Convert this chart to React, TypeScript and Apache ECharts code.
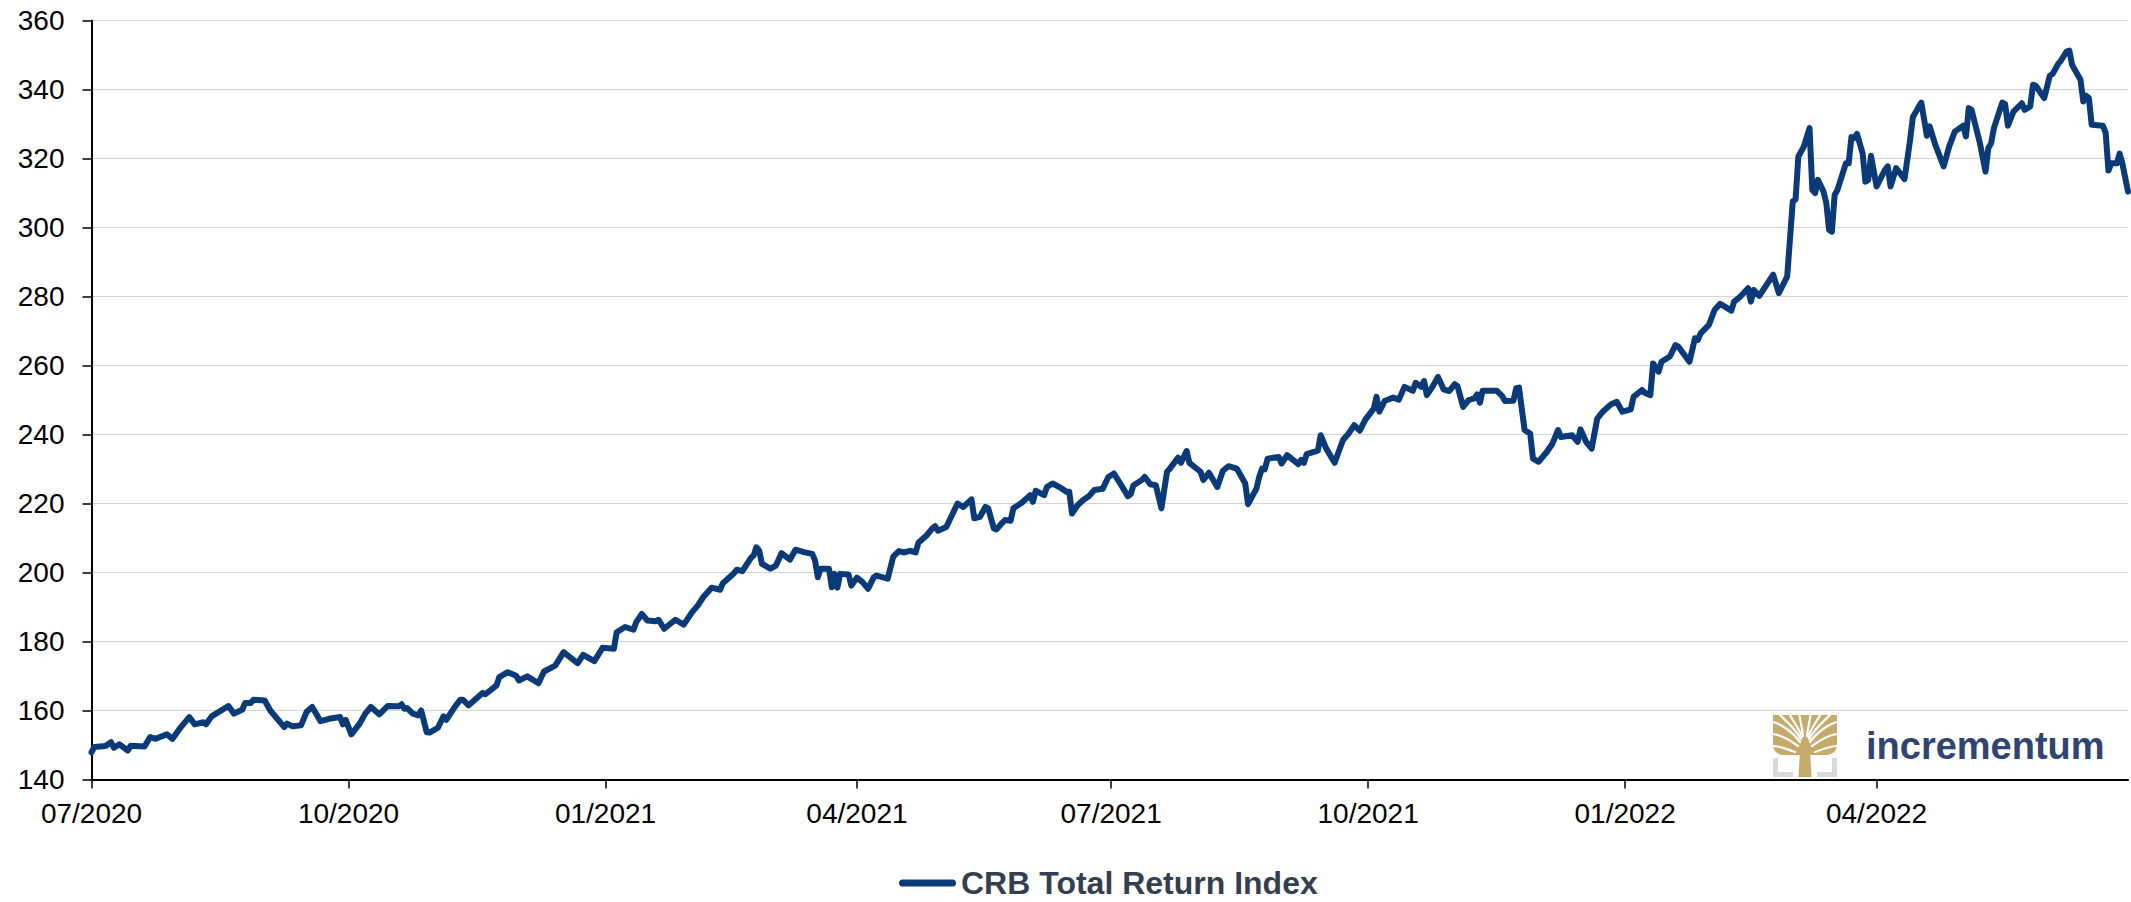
import React, { useEffect, useRef } from "react";
import * as echarts from "echarts";

const START_DATE = "2020-07-01";
const SERIES_NAME = "CRB Total Return Index";

// x values: calendar days since START_DATE
const DAYS_A = [0,1,5,7,8,10,13,14,19,21,
  23,27,29,32,35,37,40,41,43,49,
  51,54,55,57,58,62,64,69,70,72,
  75,77,79,82,85,89,90,91,93,96,
  98,100,103,106,110,111,112,113,115,117,
  118,120,121,124,126,127,130,132,133,135,
  140,141,145];
const VALUES_A = [147.9,149.4,149.7,150.8,149.2,150.2,148.4,149.8,149.6,152.3,
  151.8,153.1,151.8,155.2,158.1,156.0,156.6,156.0,158.3,161.3,
  159.1,160.3,162.2,162.2,163.1,162.9,160.0,155.2,156.2,155.4,
  155.7,159.6,161.0,156.9,157.6,158.1,156.0,157.3,153.1,156.2,
  159.1,161.0,158.9,161.3,161.2,161.8,160.5,160.7,159.1,158.6,
  160.0,153.7,153.6,155.0,158.3,157.3,161.0,163.1,163.1,161.5,
  165.1,164.7,167.3];

const DAYS_B = [146,149,152,153,156,160,162,166,169,174,
  176,180,183,187,188,191,194,195,197,199,
  202];
const VALUES_B = [169.7,171.1,170.1,168.7,169.9,167.9,171.3,173.0,176.9,173.7,
  176.1,174.3,178.2,177.9,182.7,184.2,183.4,185.6,188.0,186.1,
  185.9];

const DAYS_C = [203,205,209,212,215,217,219,222,225,226,
  230,231,233,236,237,238,239,240,243,245,
  247,250,252,255,258,259,260,261,264,265,
  266,267,268,271,272,274,276,278,280,281,
  285,287,289];
const VALUES_C = [186.3,183.7,186.3,184.9,188.5,190.4,192.9,195.6,195.0,196.9,
  199.8,200.8,200.4,204.2,204.9,207.3,206.4,202.5,201.1,202.0,
  205.6,203.7,206.6,205.9,205.4,203.5,198.6,201.1,201.1,195.7,
  199.6,195.6,199.6,199.4,196.2,198.5,197.2,195.3,198.6,199.1,
  198.2,204.6,206.2];

const DAYS_D = [291,293,295,296,299,301,302,303,306,308,
  310,312,315,316,318,320,321,323,324,326,
  327,329,330,333,336,337,338,341,342,344,
  347,349,350,351,353,355,357,359,362,364,
  366,369,371,372,373,376,377,379,381,383,
  385,386,389,390,392,393,397,398,400,403,
  405,407,410,411,413,414,417,418,419,420,
  421,425,426,428,432,433,434,435,439,440,
  442,445,448,450,452,454,456,459,460,461,
  463,466,468,470,473,474];
const VALUES_D = [205.8,206.3,205.8,208.6,210.8,212.8,213.4,212.1,213.2,216.6,
  220.0,219.0,221.2,215.7,216.1,219.0,218.6,212.8,212.5,214.4,
  215.2,215.0,218.6,220.2,222.4,220.5,223.7,222.4,224.8,225.8,
  224.5,223.4,223.4,217.1,219.5,221.0,222.1,223.9,224.3,227.7,
  228.7,224.8,222.1,222.7,225.3,226.8,227.7,225.6,225.3,218.6,
  229.2,230.1,233.3,231.8,235.2,231.8,229.2,226.8,228.9,224.8,
  229.5,230.8,230.1,228.7,225.8,219.8,224.3,227.7,230.1,229.9,
  233.0,233.5,231.6,234.0,231.4,232.6,231.8,234.3,235.3,239.8,
  235.9,231.8,238.4,240.3,242.7,241.1,244.3,247.5,250.9,246.6,
  249.8,250.7,250.1,253.8,252.7,255.0];

const DAYS_E = [476,477,478,480,482,484,486,488,489,491,
  493,495,496,497,498,503,505,506,509,510,
  511,513,515,516,518,521,523,525,526,530,
  532,533,535,537,539,541,544,546,548,551,
  552,555,556,558,559,561,562,565,567,568,
  572,574,575,576,579,581,583,587,588,590,
  593,594,595,597,602,604,607,609,610,611];
const VALUES_E = [253.8,255.5,251.4,253.8,256.7,253.1,252.6,254.6,254.0,248.0,
  250.0,250.5,251.6,249.2,252.7,252.7,251.1,249.7,249.8,253.4,
  253.6,241.3,240.3,233.0,232.1,235.0,237.4,241.3,239.3,239.8,
  237.9,241.5,237.9,235.9,244.6,246.6,248.8,249.5,246.6,247.3,
  250.9,252.9,252.1,251.4,260.6,258.2,261.1,262.6,265.9,265.5,
  261.1,267.9,267.4,269.3,271.8,276.1,277.9,275.9,278.5,279.8,
  282.4,278.5,281.9,280.2,286.3,281.0,285.8,307.6,308.1,320.6];

const DAYS_F = [613,615,616,617,618,620,621,622,623,624,
  625,628,629,630,631,632,634,635,636,637,
  639,642,643,644,646,649,651,652,655,657,
  658,660,663,665,667,670,671,672,673,676,
  678,679,680,681,684,685,686,688,691,692,
  694,695,696,699,701,702,704,705,707,708,
  709,712,713,714,715,716,720,721,722,723,
  725,726,727,729];
const VALUES_F = [323.5,328.8,310.9,310.0,313.8,310.4,307.1,299.3,298.8,309.5,
  310.9,318.6,318.6,326.2,325.9,327.1,321.5,313.3,313.8,320.8,
  311.9,316.7,317.7,311.9,317.2,314.0,325.4,332.0,336.2,326.6,
  329.3,324.0,317.7,323.5,327.8,329.5,326.4,334.6,334.1,324.4,
  316.2,323.0,324.4,328.8,336.2,335.8,329.5,333.6,336.0,334.1,
  335.1,341.4,341.1,337.5,344.0,344.5,347.4,348.4,351.0,351.3,
  347.1,342.8,336.5,338.2,337.5,329.8,329.5,327.5,316.5,318.6,
  318.6,321.4,318.5,310.4];

const TICK_DATES = ["2020-07-01","2020-10-01","2021-01-01","2021-04-01","2021-07-01","2021-10-01","2022-01-01","2022-04-01"];
const TICK_LABELS = ["07/2020","10/2020","01/2021","04/2021","07/2021","10/2021","01/2022","04/2022"];

const Y_MIN = 140;
const Y_MAX = 360;
const Y_STEP = 20;

const FONT = "'Liberation Sans', Arial, Helvetica, sans-serif";
const LINE_COLOR = "#0b3a78";
const GOLD = "#c5aa6c";
const GREY = "#d9d9dd";

const DAYS = [...DAYS_A, ...DAYS_B, ...DAYS_C, ...DAYS_D, ...DAYS_E, ...DAYS_F];
const VALUES = [...VALUES_A, ...VALUES_B, ...VALUES_C, ...VALUES_D, ...VALUES_E, ...VALUES_F];

const DAY_MS = 86400000;
const tickDays = TICK_DATES.map((d) => Math.round((Date.parse(d) - Date.parse(START_DATE)) / DAY_MS));

function logoGraphic() {
  const W = 64;
  const gap = { stroke: "#ffffff", lineWidth: 2.2, fill: null as any, lineCap: "round" };
  const curve = (x1: number, y1: number, c1x: number, c1y: number, c2x: number, c2y: number, x2: number, y2: number) => ({
    type: "bezierCurve",
    shape: { x1, y1, cpx1: c1x, cpy1: c1y, cpx2: c2x, cpy2: c2y, x2, y2 },
    style: gap,
  });
  // white gaps between the gold branches (left half, mirrored on the right)
  const gaps = [
    [22, 37, 14, 34, 6, 31, 0, 31],
    [25, 31, 17, 25, 7, 20, 0, 19],
    [27, 27, 20, 17, 8, 9, 0, 7],
    [28, 24, 22, 13, 12, 5, 7, 0],
    [29, 22, 25, 11, 19, 5, 17, 0],
    [30, 21, 29, 11, 27, 5, 26.5, 0],
  ];
  const children: any[] = [];
  children.push({ type: "rect", shape: { x: 0, y: 0, width: W, height: 40, r: [0, 0, 10, 10] }, style: { fill: GOLD } });
  children.push({ type: "polygon", shape: { points: [[25.5, 62], [38.5, 62], [37, 36], [27, 36]] }, style: { fill: GOLD } });
  gaps.forEach((g) => {
    children.push(curve(g[0], g[1], g[2], g[3], g[4], g[5], g[6], g[7]));
    children.push(curve(W - g[0], g[1], W - g[2], g[3], W - g[4], g[5], W - g[6], g[7]));
  });
  children.push({ type: "rect", shape: { x: 0, y: 43, width: 5, height: 19 }, style: { fill: GREY } });
  children.push({ type: "rect", shape: { x: 0, y: 57, width: 20, height: 5 }, style: { fill: GREY } });
  children.push({ type: "rect", shape: { x: 59, y: 43, width: 5, height: 19 }, style: { fill: GREY } });
  children.push({ type: "rect", shape: { x: 44, y: 57, width: 20, height: 5 }, style: { fill: GREY } });
  return [
    { type: "group", x: 1773, y: 715, children },
    {
      type: "text",
      x: 1866,
      y: 746,
      style: {
        text: "incrementum",
        fontSize: 38,
        fontWeight: "bold",
        fontFamily: FONT,
        fill: "#2f4472",
        verticalAlign: "middle",
        align: "left",
      },
    },
  ];
}

export default function App() {
  const ref = useRef<HTMLDivElement>(null);
  useEffect(() => {
    document.body.style.margin = "0";
    const chart = echarts.init(ref.current!, null, { renderer: "svg" });
    const data = DAYS.map((d, i) => [d, VALUES[i]]);
    chart.setOption({
      animation: false,
      backgroundColor: "#ffffff",
      grid: { left: 91.5, right: 3, top: 20.5, bottom: 122.5, containLabel: false, outerBoundsMode: "none" },
      xAxis: {
        type: "value",
        min: 0,
        max: DAYS[DAYS.length - 1],
        axisLine: { show: true, onZero: false, lineStyle: { color: "#000", width: 2 } },
        axisTick: { show: true, customValues: tickDays, length: 9, lineStyle: { color: "#000", width: 1.5 } },
        axisLabel: {
          customValues: tickDays,
          formatter: (v: number) => TICK_LABELS[tickDays.indexOf(Math.round(v))] ?? "",
          fontSize: 28,
          color: "#000",
          fontFamily: FONT,
          margin: 20,
        },
        splitLine: { show: false },
      },
      yAxis: {
        type: "value",
        min: Y_MIN,
        max: Y_MAX,
        interval: Y_STEP,
        axisLine: { show: true, lineStyle: { color: "#000", width: 2 } },
        axisTick: { show: true, length: 9, lineStyle: { color: "#000", width: 1.5 } },
        axisLabel: { fontSize: 28, color: "#000", fontFamily: FONT, margin: 27 },
        splitLine: { show: true, lineStyle: { color: "#d4d4d4", width: 1 } },
      },
      legend: {
        show: true,
        left: 894,
        top: 861,
        padding: [5, 5, 0, 5],
        itemWidth: 57,
        itemHeight: 7,
        icon: "path://M3.5,0 H53.5 A3.5,3.5 0 0 1 53.5,7 H3.5 A3.5,3.5 0 0 1 3.5,0 Z",
        textStyle: { fontSize: 32, lineHeight: 34, fontWeight: "bold", color: "#333f50", fontFamily: FONT },
        data: [SERIES_NAME],
      },
      series: [
        {
          name: SERIES_NAME,
          type: "line",
          data,
          showSymbol: false,
          symbol: "none",
          itemStyle: { color: LINE_COLOR },
          lineStyle: { color: LINE_COLOR, width: 6, join: "round", cap: "round" },
        },
      ],
      graphic: logoGraphic(),
    });
    return () => chart.dispose();
  }, []);
  return <div ref={ref} style={{ position: "absolute", left: 0, top: 0, width: 2131, height: 902 }} />;
}
